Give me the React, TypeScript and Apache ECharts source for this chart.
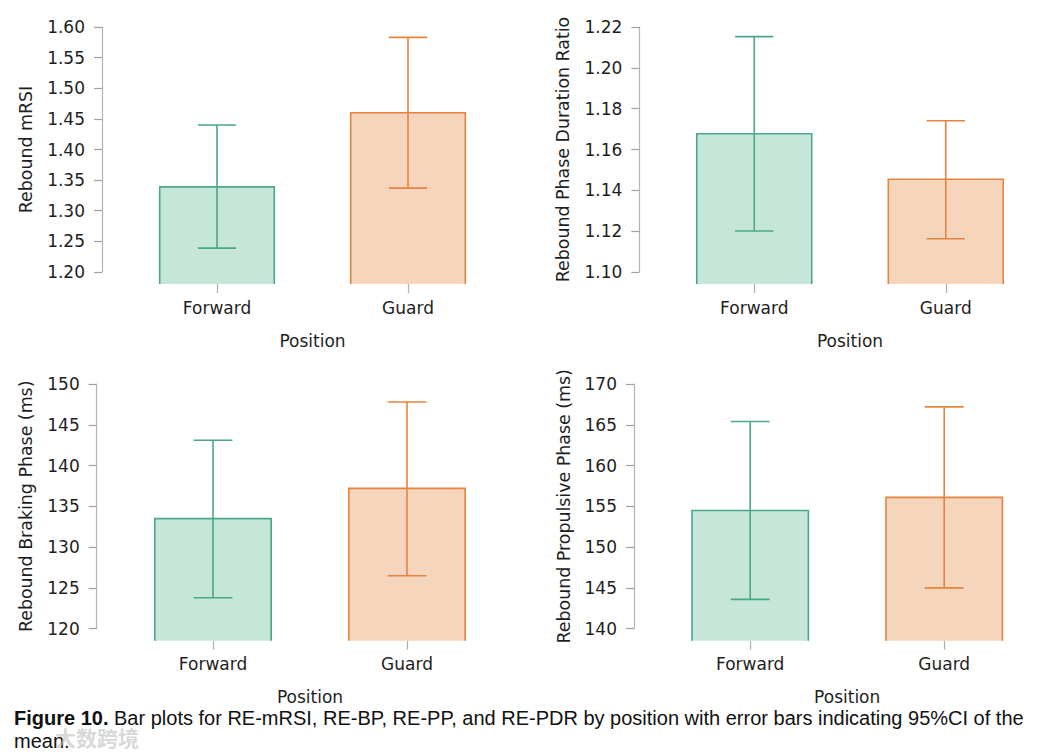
import React, { useEffect, useRef } from "react";
import * as echarts from "echarts";

const categories = ["Forward", "Guard"];

const mrsiMean = [1.339, 1.46];
const mrsiLow = [1.239, 1.337];
const mrsiHigh = [1.44, 1.583];

const pdrMean = [1.1677, 1.1454];
const pdrLow = [1.1201, 1.1163];
const pdrHigh = [1.2153, 1.1741];

const bpMean = [133.5, 137.2];
const bpLow = [123.8, 126.5];
const bpHigh = [143.1, 147.8];

const ppMean = [154.5, 156.1];
const ppLow = [143.6, 145.0];
const ppHigh = [165.4, 167.2];

const captionBold = "Figure 10.";
const captionText =
  " Bar plots for RE-mRSI, RE-BP, RE-PP, and RE-PDR by position with error bars indicating 95%CI of the";
const captionLine2 = "mean.";

const fills = ["#c6e6da", "#f6d5bd"];
const strokes = ["#4aa886", "#e6843f"];
const FONT = "DejaVu Sans";
const TEXT = "#1e1e1e";

type Panel = {
  title: string;
  mean: number[];
  low: number[];
  high: number[];
  min: number;
  max: number;
  interval: number;
  digits: number;
  left: number;
  top: number;
  width: number;
  height: number;
  yOffset: number;
  nameGap: number;
};

const panels: Panel[] = [
  { title: "Rebound mRSI", mean: mrsiMean, low: mrsiLow, high: mrsiHigh, min: 1.2, max: 1.6, interval: 0.05, digits: 2,
    left: 121.5, top: 27, width: 382, height: 245, yOffset: 19.5, nameGap: 68 },
  { title: "Rebound Phase Duration Ratio", mean: pdrMean, low: pdrLow, high: pdrHigh, min: 1.1, max: 1.22, interval: 0.02, digits: 2,
    left: 658.5, top: 27, width: 383, height: 245, yOffset: 19.2, nameGap: 68 },
  { title: "Rebound Braking Phase (ms)", mean: bpMean, low: bpLow, high: bpHigh, min: 120, max: 150, interval: 5, digits: 0,
    left: 116, top: 384, width: 388, height: 244.7, yOffset: 19.3, nameGap: 62 },
  { title: "Rebound Propulsive Phase (ms)", mean: ppMean, low: ppLow, high: ppHigh, min: 140, max: 170, interval: 5, digits: 0,
    left: 653.2, top: 384, width: 388, height: 244.7, yOffset: 19.2, nameGap: 62 },
];

export default function App() {
  const ref = useRef<HTMLDivElement>(null);
  useEffect(() => {
    document.body.style.margin = "0";
    if (!ref.current) return;
    const chart = echarts.init(ref.current, null, { renderer: "svg" });

    const grids: any[] = [];
    const xAxes: any[] = [];
    const yAxes: any[] = [];
    const series: any[] = [];

    panels.forEach((p, idx) => {
      grids.push({ left: p.left, top: p.top, width: p.width, height: p.height });
      xAxes.push({
        type: "category",
        gridIndex: idx,
        data: categories,
        offset: 12,
        axisLine: { show: false },
        axisTick: { show: true, length: 9, alignWithLabel: true, lineStyle: { color: "#b0b0b0", width: 1.2 } },
        axisLabel: { fontSize: 17, margin: 15, color: TEXT, fontFamily: FONT },
        name: "Position",
        nameLocation: "middle",
        nameGap: 48,
        nameTextStyle: { fontSize: 17, color: TEXT, fontFamily: FONT },
        splitLine: { show: false },
      });
      yAxes.push({
        type: "value",
        gridIndex: idx,
        min: p.min,
        max: p.max,
        interval: p.interval,
        offset: p.yOffset,
        axisLine: { show: true, lineStyle: { color: "#b4b4b4", width: 1.2 } },
        axisTick: { show: true, length: 8, lineStyle: { color: "#a0a0a0", width: 1.2 } },
        axisLabel: {
          fontSize: 17,
          margin: 17,
          color: TEXT,
          fontFamily: FONT,
          formatter: (v: number) => v.toFixed(p.digits),
        },
        splitLine: { show: false },
        name: p.title,
        nameLocation: "middle",
        nameGap: p.nameGap,
        nameTextStyle: { fontSize: 17.4, color: TEXT, fontFamily: FONT },
      });
      series.push({
        type: "custom",
        xAxisIndex: idx,
        yAxisIndex: idx,
        clip: false,
        data: categories.map((_, i) => [i, p.mean[i]]),
        renderItem: (params: any, api: any) => {
          const i = params.dataIndex;
          const x = api.value(0);
          const v = api.value(1);
          const topPt = api.coord([x, v]);
          const basePt = api.coord([x, p.min]);
          const bottom = basePt[1] + 12;
          const bw = api.size([1, 0])[0] * 0.6;
          const x0 = topPt[0] - bw / 2;
          const x1 = topPt[0] + bw / 2;
          return {
            type: "group",
            children: [
              { type: "rect", shape: { x: x0, y: topPt[1], width: bw, height: bottom - topPt[1] }, style: { fill: fills[i] } },
              {
                type: "polyline",
                shape: { points: [[x0, bottom], [x0, topPt[1]], [x1, topPt[1]], [x1, bottom]] },
                style: { stroke: strokes[i], lineWidth: 1.6, fill: "none" },
              },
            ],
          };
        },
      });
      series.push({
        type: "custom",
        xAxisIndex: idx,
        yAxisIndex: idx,
        clip: false,
        z: 5,
        data: categories.map((_, i) => [i, p.low[i], p.high[i]]),
        renderItem: (params: any, api: any) => {
          const i = params.dataIndex;
          const x = api.value(0);
          const lo = api.coord([x, api.value(1)]);
          const hi = api.coord([x, api.value(2)]);
          const cw = api.size([1, 0])[0] * 0.2;
          const st = { stroke: strokes[i], lineWidth: 1.6 };
          return {
            type: "group",
            children: [
              { type: "line", shape: { x1: lo[0], y1: lo[1], x2: hi[0], y2: hi[1] }, style: st },
              { type: "line", shape: { x1: lo[0] - cw / 2, y1: lo[1], x2: lo[0] + cw / 2, y2: lo[1] }, style: st },
              { type: "line", shape: { x1: hi[0] - cw / 2, y1: hi[1], x2: hi[0] + cw / 2, y2: hi[1] }, style: st },
            ],
          };
        },
      });
    });

    chart.setOption({
      animation: false,
      backgroundColor: "#ffffff",
      grid: grids,
      xAxis: xAxes,
      yAxis: yAxes,
      series,
      graphic: [
        {
          type: "text",
          left: 14,
          top: 708,
          style: {
            text: "{b|" + captionBold + "}" + captionText,
            fontFamily: "Liberation Sans",
            fontSize: 20,
            fill: "#111111",
            rich: { b: { fontWeight: "bold", fontFamily: "Liberation Sans", fontSize: 20, fill: "#111111" } },
          },
        },
        {
          type: "text",
          left: 14,
          top: 731,
          style: { text: captionLine2, fontFamily: "Liberation Sans", fontSize: 20, fill: "#111111" },
        },
        {
          type: "text",
          left: 55,
          top: 726,
          style: {
            text: "大数跨境",
            fontFamily: "Noto Sans CJK SC",
            fontSize: 21,
            fontWeight: "bold",
            fill: "rgba(190,190,190,0.6)",
          },
        },
      ],
    });
    return () => chart.dispose();
  }, []);
  return <div ref={ref} style={{ width: 1059, height: 756 }} />;
}
